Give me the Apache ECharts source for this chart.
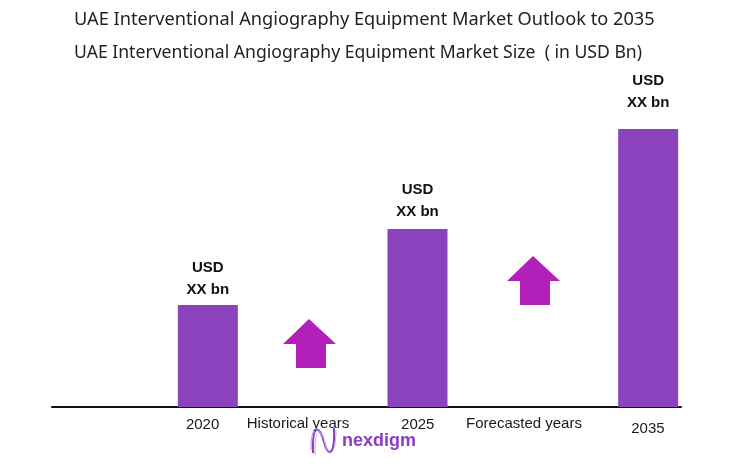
<!DOCTYPE html>
<html>
<head>
<meta charset="utf-8">
<script src="https://cdn.jsdelivr.net/npm/echarts@6/dist/echarts.min.js"></script>
<style>
html,body{margin:0;padding:0;background:#fff;}
#chart{width:753px;height:470px;}
</style>
</head>
<body>
<div id="chart"></div>
<script>
// ---- data ----
var categories = ['2020', '2025', '2035'];
var marketSize = [1.02, 1.78, 2.78];          // relative bar heights (values shown as "XX bn")
var valueLabels = ['USD\nXX bn', 'USD\nXX bn', 'USD\nXX bn'];
var periodLabels = ['Historical years', 'Forecasted years'];
var titleMain = 'UAE Interventional Angiography Equipment Market Outlook to 2035';
var titleSub = 'UAE Interventional Angiography Equipment Market Size  ( in USD Bn)';

// ---- styling ----
var labelDistances = [4, 6, 15];
var barColor = '#8a43bc';
var arrowColor = '#b21fb9';
// bars of the middle year sit slightly left of their band, the others slightly right
var leftSlot = [false, true, false];
var tickStyles = ['a', 'b', 'c'];

var chart = echarts.init(document.getElementById('chart'));

function item(v, i) {
  return { value: v, label: { distance: labelDistances[i], formatter: valueLabels[i] } };
}
var dataLeft = marketSize.map(function (v, i) { return leftSlot[i] ? item(v, i) : null; });
var dataRight = marketSize.map(function (v, i) { return leftSlot[i] ? null : item(v, i); });

function arrow(tipX, tipY) {
  return {
    type: 'polygon',
    shape: {
      points: [
        [tipX, tipY], [tipX + 27, tipY + 25], [tipX + 17, tipY + 25],
        [tipX + 17, tipY + 49], [tipX - 13, tipY + 49], [tipX - 13, tipY + 25],
        [tipX - 26, tipY + 25]
      ]
    },
    style: { fill: arrowColor }
  };
}

var barLabel = {
  show: true, position: 'top',
  fontFamily: 'Liberation Sans', fontSize: 15, fontWeight: 'bold',
  color: '#111', lineHeight: 22, align: 'center'
};

var tickFont = { fontFamily: 'Liberation Sans', fontSize: 15, color: '#1a1a1a' };

var option = {
  backgroundColor: '#ffffff',
  animation: false,
  title: [
    {
      text: titleMain, left: 69, top: 4,
      textStyle: { fontFamily: 'Noto Sans', fontSize: 18.2, fontWeight: 'normal', color: '#222', lineHeight: 22 }
    },
    {
      text: titleSub, left: 69, top: 37,
      textStyle: { fontFamily: 'Noto Sans', fontSize: 17.6, fontWeight: 'normal', color: '#222', lineHeight: 22 }
    }
  ],
  grid: [
    { left: 92.5, width: 661.5, top: 107, bottom: 63 },
    { left: 52, width: 629, top: 107, bottom: 63 }
  ],
  xAxis: [
    {
      type: 'category', gridIndex: 0, data: categories,
      axisLine: { show: false }, axisTick: { show: false },
      axisLabel: {
        fontFamily: 'Liberation Sans', fontSize: 15, color: '#1a1a1a', margin: 10,
        formatter: function (v, i) { return '{' + tickStyles[i] + '|' + v + '}'; },
        rich: {
          a: Object.assign({ padding: [0, 0, 0, 0] }, tickFont),
          b: Object.assign({ padding: [0, 10, 0, 0] }, tickFont),
          c: Object.assign({ padding: [4, 0, 0, 10] }, tickFont)
        }
      }
    },
    {
      type: 'value', gridIndex: 1, min: 0, max: 1,
      axisLine: { show: true, lineStyle: { color: '#111', width: 2 } },
      axisTick: { show: false }, axisLabel: { show: false }, splitLine: { show: false }
    }
  ],
  yAxis: [
    { type: 'value', gridIndex: 0, min: 0, max: 3, show: false },
    { type: 'value', gridIndex: 1, min: 0, max: 1, show: false }
  ],
  series: [
    {
      type: 'bar', xAxisIndex: 0, yAxisIndex: 0,
      data: dataLeft, barWidth: 60, barGap: '-82.5%',
      itemStyle: { color: barColor }, label: barLabel
    },
    {
      type: 'bar', xAxisIndex: 0, yAxisIndex: 0,
      data: dataRight, barWidth: 60, barGap: '-82.5%',
      itemStyle: { color: barColor }, label: barLabel
    }
  ],
  graphic: [
    {
      type: 'text', x: 298, y: 424,
      style: { text: periodLabels[0], font: '15px "Liberation Sans"', fill: '#1a1a1a', textAlign: 'center', textVerticalAlign: 'middle' }
    },
    {
      type: 'text', x: 524, y: 424,
      style: { text: periodLabels[1], font: '15px "Liberation Sans"', fill: '#1a1a1a', textAlign: 'center', textVerticalAlign: 'middle' }
    },
    arrow(309, 319),
    arrow(533, 256),
    {
      type: 'group', children: [
        { type: 'bezierCurve', shape: { x1: 313, y1: 453, cpx1: 312, cpy1: 422, cpx2: 320, cpy2: 426, x2: 324, y2: 442 }, style: { stroke: '#8a3cc6', lineWidth: 2, fill: null } },
        { type: 'bezierCurve', shape: { x1: 324, y1: 442, cpx1: 328, cpy1: 458, cpx2: 335, cpy2: 456, x2: 334, y2: 428 }, style: { stroke: '#8a3cc6', lineWidth: 2, fill: null } },
        { type: 'bezierCurve', shape: { x1: 315, y1: 455, cpx1: 314, cpy1: 426, cpx2: 322, cpy2: 428, x2: 325, y2: 444 }, style: { stroke: '#c7a3e6', lineWidth: 1, fill: null } },
        { type: 'bezierCurve', shape: { x1: 325, y1: 444, cpx1: 329, cpy1: 460, cpx2: 336, cpy2: 454, x2: 336, y2: 430 }, style: { stroke: '#c7a3e6', lineWidth: 1, fill: null } },
        { type: 'bezierCurve', shape: { x1: 311, y1: 450, cpx1: 311, cpy1: 424, cpx2: 318, cpy2: 424, x2: 322, y2: 438 }, style: { stroke: '#b690de', lineWidth: 1, fill: null } }
      ]
    },
    {
      type: 'text', x: 342, y: 441,
      style: { text: 'nexdigm', font: 'bold 18px "Liberation Sans"', fill: '#8b3cc4', textAlign: 'left', textVerticalAlign: 'middle' }
    }
  ]
};

chart.setOption(option);
</script>
</body>
</html>
